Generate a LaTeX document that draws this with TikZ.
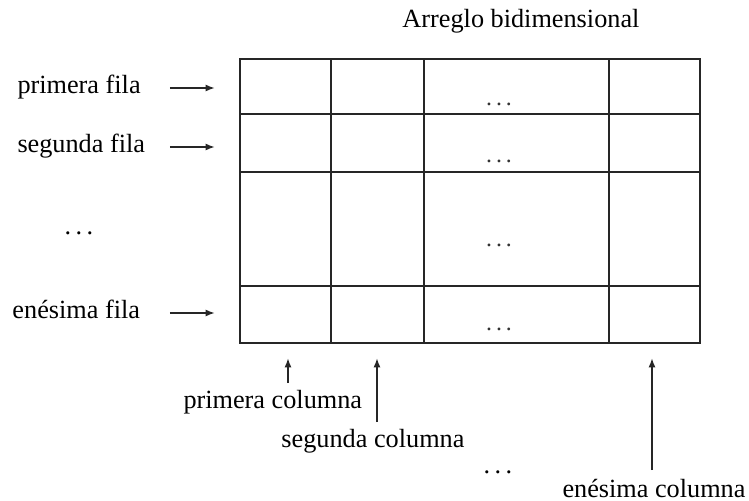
\documentclass[tikz,border=0pt]{standalone}
\usepackage{fontspec}
\setmainfont{Liberation Serif}
\usepackage{tikz}
\usetikzlibrary{arrows.meta,positioning,calc}
\newcommand{\ptos}{.\kern0.17em.\kern0.17em.}

\begin{document}
\begin{tikzpicture}[
  x=0.4pt, y=-0.4pt,
  font=\fontsize{10.5}{12}\selectfont,
  txt/.style={anchor=base west, inner sep=0pt},
  puntos/.style={anchor=base, inner sep=0pt, text=#1},
  puntos/.default=black,
  rejilla/.style={draw=black!85, line width=1.1pt},
  flecha/.style={-{Latex[length=3.6pt, width=2.8pt]}, black!85, line width=0.5pt}]
\useasboundingbox (0,0) rectangle (749,501);
\node[rejilla, inner sep=0pt, minimum width=184pt, minimum height=113.6pt] (arr) at (470,201) {};
\foreach \x in {331,424,609}
  \draw[rejilla] (\x,59) -- (\x,343);
\foreach \y in {114,172,286}
  \draw[rejilla] (240,\y) -- (700,\y);
\foreach \y [count=\i] in {105,162,246,330}
  \node[puntos=black!80, font=\fontsize{9.5}{11}\selectfont] (d\i) at (499,\y) {\ptos};
\node[txt] (tit) at (402,27) {Arreglo bidimensional};
\node[txt] (fila1) at (17,93) {primera fila};
\node[txt] (fila2) at (17,152) {segunda fila};
\node[puntos] (fdots) at (79,234) {\ptos};
\node[txt] (filan) at (12,318) {enésima fila};
\node[txt] (col1) at (183,408) {primera columna};
\node[txt] (col2) at (281,447) {segunda columna};
\node[puntos] (cdots) at (498,473) {\ptos};
\node[txt] (coln) at (562,497) {enésima columna};
\coordinate (a1) at (170,88);
\coordinate (a2) at (170,147);
\coordinate (an) at (170,313);
\coordinate (b1) at (288,383);
\coordinate (b2) at (377,422);
\coordinate (bn) at (652,470);
\foreach \c in {a1,a2,an}
  \draw[flecha, shorten >=9.6pt] (\c) -- (\c -| arr.west);
\foreach \c in {b1,b2,bn}
  \draw[flecha, shorten >=5.6pt] (\c) -- (\c |- arr.south);
\end{tikzpicture}
\end{document}
